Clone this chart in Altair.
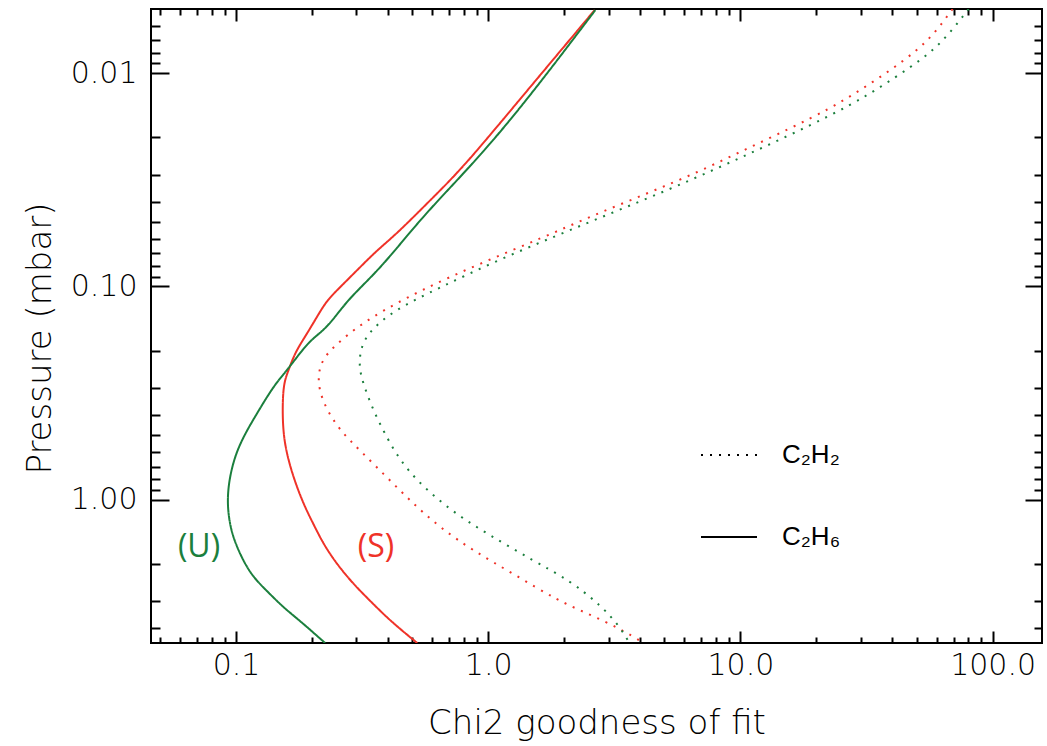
import altair as alt
import pandas as pd

# Chi2 goodness of fit versus pressure level (mbar) for the two models
# (S) and (U), for C2H6 and C2H2.
S_C2H6_P = [0.00506, 0.01439, 0.02754, 0.03947, 0.05656, 0.0678, 0.0812, 0.1008,
            0.1163, 0.1394, 0.1668, 0.1928, 0.2148, 0.248, 0.2862, 0.382, 0.4915,
            0.610, 0.786, 1.047, 1.30, 1.614, 2.004, 2.488, 2.98, 3.70, 4.70]
S_C2H6_X = [2.642, 1.26, 0.798, 0.5887, 0.4342, 0.3617, 0.3105, 0.2587,
            0.229, 0.209, 0.1909, 0.1767, 0.1688, 0.1612, 0.1541, 0.1527, 0.1541,
            0.1589, 0.1688, 0.1849, 0.2026, 0.222, 0.2509, 0.292, 0.340, 0.4085, 0.523]

U_C2H6_P = [0.00506, 0.01439, 0.02754, 0.04727, 0.0812, 0.1122, 0.1394,
            0.161, 0.1793, 0.2148, 0.248, 0.2813, 0.331, 0.396, 0.4744, 0.589,
            0.7575, 1.011, 1.349, 1.675, 2.233, 2.674, 3.204, 3.70, 4.70]
U_C2H6_X = [2.659, 1.36, 0.848, 0.5455, 0.3786, 0.2835, 0.247,
            0.222, 0.1966, 0.1741, 0.1589, 0.145, 0.1323, 0.1208, 0.1103, 0.1007,
            0.0947, 0.0919, 0.0947, 0.1007, 0.1136, 0.1323, 0.1541, 0.1795, 0.2255]

S_C2H2_P = [0.005, 0.00642, 0.0078, 0.00968, 0.0120, 0.0146, 0.01812, 0.0230,
            0.0292, 0.0366, 0.0464, 0.0589, 0.078, 0.1044, 0.1398, 0.1793, 0.2155,
            0.256, 0.3078, 0.382, 0.4744, 0.589, 0.788, 1.044, 1.353, 1.736, 2.225,
            2.98, 3.43, 4.032, 4.69]
S_C2H2_X = [69.4, 59.4, 50.4, 39.4, 29.9, 22.8, 15.8, 10.28,
            6.75, 4.275, 2.61, 1.653, 0.929, 0.537, 0.340, 0.2587, 0.2214,
            0.2115, 0.2135, 0.2297, 0.2587, 0.3105, 0.3975, 0.504, 0.645, 0.872, 1.257,
            1.896, 2.494, 3.342, 4.122]

U_C2H2_P = [0.005, 0.00642, 0.0078, 0.00937, 0.01163, 0.01413, 0.01754, 0.02226,
            0.0279, 0.0354, 0.0449, 0.0576, 0.0755, 0.101, 0.1296, 0.166, 0.1998,
            0.240, 0.2853, 0.370, 0.4744, 0.731, 1.126, 1.444, 1.934, 2.40, 3.045,
            3.467, 3.99, 4.69]
U_C2H2_X = [80.3, 68.1, 58.3, 47.3, 35.9, 27.3, 18.96, 12.34,
            8.10, 5.13, 3.133, 1.878, 1.086, 0.645, 0.42, 0.331, 0.3105,
            0.3077, 0.319, 0.3465, 0.383, 0.4685, 0.7066, 0.991, 1.509, 2.116, 2.707,
            3.021, 3.342, 3.627]

GASES = ["C\u2082H\u2082", "C\u2082H\u2086"]
MODELS = ["(S)", "(U)"]
MODEL_COLORS = ["#ef3228", "#1b7f3d"]

# model tags written next to the C2H6 curves
TAG_TEXT = ["(U)", "(S)"]
TAG_X = [0.0713, 0.359]
TAG_P = [1.66, 1.66]

X_DOMAIN = [0.046, 157]
Y_DOMAIN = [0.005, 4.7]
X_MAJOR = [0.1, 1.0, 10.0, 100.0]
X_MINOR = [0.05, 0.06, 0.07, 0.08, 0.09,
           0.2, 0.3, 0.4, 0.5, 0.6, 0.7, 0.8, 0.9,
           2.0, 3.0, 4.0, 5.0, 6.0, 7.0, 8.0, 9.0,
           20.0, 30.0, 40.0, 50.0, 60.0, 70.0, 80.0, 90.0]
Y_MAJOR = [0.01, 0.1, 1.0]
Y_MINOR = [0.006, 0.007, 0.008, 0.009,
           0.02, 0.03, 0.04, 0.05, 0.06, 0.07, 0.08, 0.09,
           0.2, 0.3, 0.4, 0.5, 0.6, 0.7, 0.8, 0.9,
           2.0, 3.0, 4.0]

rows = []
for gas, model, ps, xs in [
    (GASES[1], MODELS[0], S_C2H6_P, S_C2H6_X),
    (GASES[1], MODELS[1], U_C2H6_P, U_C2H6_X),
    (GASES[0], MODELS[0], S_C2H2_P, S_C2H2_X),
    (GASES[0], MODELS[1], U_C2H2_P, U_C2H2_X),
]:
    for i, (p, x) in enumerate(zip(ps, xs)):
        rows.append({"gas": gas, "model": model, "curve": gas + model,
                     "idx": i, "pressure": p, "chi2": x})
curves = pd.DataFrame(rows)
tags = pd.DataFrame({"text": TAG_TEXT, "chi2": TAG_X, "pressure": TAG_P,
                     "model": ["(U)", "(S)"]})

AXIS_FONT = "DejaVu Sans"


def major_test(majors):
    return "indexof([" + ",".join(repr(v) for v in majors) + "], datum.value) >= 0"


def tick_size(majors, big, small):
    # negative sizes turn the ticks inward, into the plotting box
    return {"condition": {"test": major_test(majors), "value": -big}, "value": -small}


common_axis = dict(grid=False, domain=False, tickColor="black", tickWidth=2,
                   labelFont=AXIS_FONT, labelFontSize=30, labelColor="black",
                   labelFontWeight=300,
                   titleFont=AXIS_FONT, titleFontSize=34, titleFontWeight=300,
                   titleColor="black", labelOverlap=False, labelFlush=False,
                   labelBound=False)

x_bottom = alt.Axis(orient="bottom", values=X_MINOR + X_MAJOR,
                    tickSize=tick_size(X_MAJOR, 12, 6),
                    labelExpr=major_test(X_MAJOR) + " ? format(datum.value, '.1f') : ''",
                    labelPadding=19, title="Chi2 goodness of fit", titlePadding=20,
                    **common_axis)
y_left = alt.Axis(orient="left", values=Y_MINOR + Y_MAJOR,
                  tickSize=tick_size(Y_MAJOR, 18, 9),
                  labelExpr=major_test(Y_MAJOR) + " ? format(datum.value, '.2f') : ''",
                  labelPadding=32, title="Pressure (mbar)", titlePadding=13,
                  titleY=329, **common_axis)
x_top = alt.Axis(orient="top", values=X_MINOR + X_MAJOR,
                 tickSize=tick_size(X_MAJOR, 12, 6), labels=False, title=None,
                 grid=False, domain=False, tickColor="black", tickWidth=2)
y_right = alt.Axis(orient="right", values=Y_MINOR + Y_MAJOR,
                   tickSize=tick_size(Y_MAJOR, 17, 8), labels=False, title=None,
                   grid=False, domain=False, tickColor="black", tickWidth=2)


def xscale():
    return alt.Scale(type="log", domain=X_DOMAIN, nice=False)


def yscale():
    return alt.Scale(type="log", domain=Y_DOMAIN, reverse=True, nice=False)


color_scale = alt.Scale(domain=MODELS, range=MODEL_COLORS)

lines = alt.Chart(curves).mark_line(
    strokeWidth=2, clip=True, strokeCap="butt", interpolate="basis"
).encode(
    x=alt.X("chi2:Q", scale=xscale(), axis=x_bottom),
    y=alt.Y("pressure:Q", scale=yscale(), axis=y_left),
    color=alt.Color("model:N", scale=color_scale, legend=None),
    strokeDash=alt.StrokeDash(
        "gas:N",
        scale=alt.Scale(domain=GASES, range=[[2, 7], [1, 0]]),
        legend=alt.Legend(title=None, orient="none", legendX=549, legendY=417,
                          symbolType="stroke", symbolSize=3136, symbolStrokeWidth=2,
                          symbolStrokeColor="black", labelFont="Liberation Sans",
                          labelFontSize=26, labelColor="black", labelOffset=24,
                          rowPadding=40, padding=0),
    ),
    detail="curve:N",
    order="idx:Q",
)

labels = alt.Chart(tags).mark_text(font="Open Sans", fontSize=32).encode(
    x=alt.X("chi2:Q", scale=xscale()),
    y=alt.Y("pressure:Q", scale=yscale()),
    text="text:N",
    color=alt.Color("model:N", scale=color_scale, legend=None),
)

main = alt.layer(lines, labels)

mirror = alt.Chart(curves).mark_line(strokeOpacity=0).encode(
    x=alt.X("chi2:Q", scale=xscale(), axis=x_top),
    y=alt.Y("pressure:Q", scale=yscale(), axis=y_right),
    detail="curve:N",
)

chart = alt.layer(main, mirror).resolve_scale(
    x="independent", y="independent"
).resolve_axis(
    x="independent", y="independent"
).properties(
    width=891, height=634,
    autosize=alt.AutoSizeParams(type="none"),
    padding={"left": 151, "top": 9, "right": 5, "bottom": 103},
    background="white",
).configure_view(stroke="black", strokeWidth=2)

chart.save("out.html", embed_options={"renderer": "svg", "actions": False})
